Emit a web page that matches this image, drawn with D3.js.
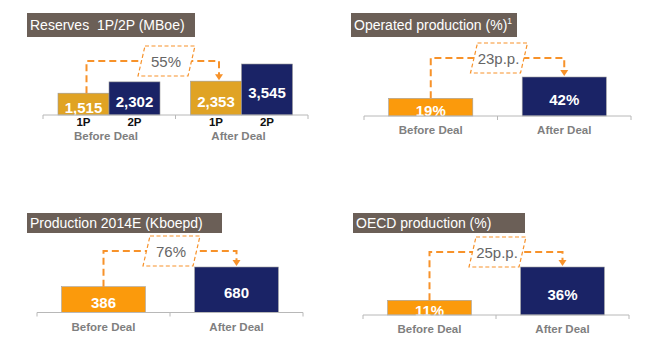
<!DOCTYPE html>
<html><head><meta charset="utf-8">
<script src="https://cdn.jsdelivr.net/npm/d3@7"></script>
<style>
html,body{margin:0;padding:0;background:#fff;}
svg{display:block;font-family:"Liberation Sans",Arial,sans-serif;}
</style></head>
<body><svg id="c" width="647" height="353"></svg>
<script>
// ---- data ----
const groups = ["Before Deal", "After Deal"];
const reserveSeries = ["1P", "2P"];
const reserves1P = [1515, 2353];
const reserves2P = [2302, 3545];
const reservesDelta = "55%";
const reservesTitle = "Reserves  1P/2P (MBoe)";

const operatedValues = [19, 42];
const operatedDelta = "23p.p.";
const operatedTitle = "Operated production (%)";
const operatedNote = "1";

const productionValues = [386, 680];
const productionDelta = "76%";
const productionTitle = "Production 2014E (Kboepd)";

const oecdValues = [11, 36];
const oecdDelta = "25p.p.";
const oecdTitle = "OECD production (%)";

const fmt = d3.format(",");
const fmtPct = v => v + "%";

// ---- styles ----
const C_GOLD = "#E0A324", C_ORANGE = "#FB9A0C", C_NAVY = "#1A2366",
      C_TITLE = "#6B5F57", C_DASH = "#F7922A", C_GREY = "#7F7F7F";

const svg = d3.select("#c");

function titleBox(x, y, w, h, text, note) {
  const g = svg.append("g");
  g.append("rect").attr("x", x).attr("y", y).attr("width", w).attr("height", h).attr("fill", C_TITLE);
  const t = g.append("text").attr("x", x + 3).attr("y", y + h / 2 + 5)
    .attr("fill", "#fff").attr("font-size", 14).style("white-space", "pre").text(text);
  if (note) {
    t.append("tspan").attr("font-size", 8.5).attr("dy", -6).text(note);
  }
}

function axisLine(x0, x1, y, ticks) {
  const g = svg.append("g");
  g.append("line").attr("x1", x0).attr("x2", x1).attr("y1", y).attr("y2", y)
    .attr("stroke", "#B8B8B8").attr("stroke-width", 1);
  ticks.forEach(t => g.append("line").attr("x1", t).attr("x2", t).attr("y1", y).attr("y2", y + 4)
    .attr("stroke", "#B8B8B8").attr("stroke-width", 1));
}

function deltaArrow(x0, y0, x1, yTop, y1, boxCx, text) {
  const g = svg.append("g");
  g.append("path")
    .attr("d", `M${x0},${y0} V${yTop} H${x1} V${y1 - 5}`)
    .attr("fill", "none").attr("stroke", C_DASH).attr("stroke-width", 2)
    .attr("stroke-dasharray", "7,4");
  g.append("path")
    .attr("d", `M${x1 - 4},${y1 - 7} L${x1 + 4},${y1 - 7} L${x1},${y1 - 1} Z`)
    .attr("fill", C_DASH);
  const bw = 50, bh = 30, sk = 5;
  const bx = boxCx - bw / 2, by = yTop - bh / 2;
  g.append("path")
    .attr("d", `M${bx + sk},${by} L${bx + bw + sk},${by} L${bx + bw - sk + 3},${by + bh} L${bx - sk + 3},${by + bh} Z`)
    .attr("fill", "#fff").attr("stroke", C_DASH).attr("stroke-width", 1.2)
    .attr("stroke-dasharray", "4,2.5");
  g.append("text").attr("x", boxCx + 1).attr("y", yTop + 5.5).attr("text-anchor", "middle")
    .attr("fill", "#666").attr("font-size", 15).text(text);
}

function valueLabel(x, yTop, yBase, txt) {
  svg.append("text").attr("x", x).attr("y", (yTop + yBase) / 2 + 3 + 5.5)
    .attr("text-anchor", "middle").attr("fill", "#fff").attr("font-weight", "bold")
    .attr("font-size", 15).text(txt);
}

// ---- Panel 1: Reserves ----
(function () {
  const base = 115;
  titleBox(27, 13, 168, 24, reservesTitle);
  const x = d3.scaleBand().domain(groups).range([43, 308]);
  const xi = d3.scaleBand().domain(reserveSeries).range([15, 117]);
  const y = d3.scaleLinear().domain([0, 3545]).range([base, 64]);
  const rows = groups.map((g, i) => ({ g, vals: [reserves1P[i], reserves2P[i]] }));
  rows.forEach(r => {
    r.vals.forEach((v, j) => {
      const bx = x(r.g) + xi(reserveSeries[j]);
      svg.append("rect").attr("x", bx).attr("y", y(v)).attr("width", xi.bandwidth())
        .attr("height", base - y(v)).attr("fill", j === 0 ? C_GOLD : C_NAVY)
        .attr("stroke", "#9a9a9a").attr("stroke-width", 0.6);
      valueLabel(bx + xi.bandwidth() / 2, y(v), base, fmt(v));
      svg.append("text").attr("x", bx + xi.bandwidth() / 2).attr("y", base + 11)
        .attr("text-anchor", "middle").attr("font-weight", "bold").attr("font-size", 11.5)
        .attr("fill", "#111").text(reserveSeries[j]);
    });
    svg.append("text").attr("x", x(r.g) + 63).attr("y", base + 25)
      .attr("text-anchor", "middle").attr("font-weight", "bold").attr("font-size", 11.5)
      .attr("fill", C_GREY).text(r.g);
  });
  axisLine(43, 308, base, [43, 175.5, 308]);
  const xs = x(groups[0]) + xi("1P") + xi.bandwidth() / 2 + 3;
  const xe = x(groups[1]) + xi("1P") + xi.bandwidth() / 2 + 3;
  deltaArrow(xs, y(reserves1P[0]), xe, 61, y(reserves1P[1]), 165, reservesDelta);
})();

// ---- Generic two-bar panel ----
function twoBar(opts) {
  const { x0, x1, base, vals, max, topPx, title, tbox, note, delta, arrowY, labelFmt } = opts;
  titleBox(tbox[0], tbox[1], tbox[2], tbox[3], title, note);
  const x = d3.scaleBand().domain(groups).range([x0, x1]).paddingInner(0.37).paddingOuter(0.185);
  const y = d3.scaleLinear().domain([0, max]).range([base, topPx]);
  groups.forEach((g, i) => {
    const v = vals[i];
    svg.append("rect").attr("x", x(g)).attr("y", y(v)).attr("width", x.bandwidth())
      .attr("height", base - y(v)).attr("fill", i === 0 ? C_ORANGE : C_NAVY)
      .attr("stroke", "#a0a0a0").attr("stroke-width", 0.6);
    valueLabel(x(g) + x.bandwidth() / 2, y(v), base, labelFmt(v));
    svg.append("text").attr("x", x(g) + x.bandwidth() / 2).attr("y", base + 18)
      .attr("text-anchor", "middle").attr("font-weight", "bold").attr("font-size", 11.5)
      .attr("fill", C_GREY).text(g);
  });
  axisLine(x0, x1, base, [x0, (x0 + x1) / 2, x1]);
  const xs = x(groups[0]) + x.bandwidth() / 2;
  const xe = x(groups[1]) + x.bandwidth() / 2;
  deltaArrow(xs, y(vals[0]), xe, arrowY, y(vals[1]), (xs + xe) / 2, delta);
}

twoBar({ x0: 364, x1: 631, base: 116, vals: operatedValues, max: 42, topPx: 77,
  title: operatedTitle, note: operatedNote, tbox: [351, 13, 166, 24], delta: operatedDelta,
  arrowY: 58, labelFmt: fmtPct });

twoBar({ x0: 37, x1: 303, base: 312.5, vals: productionValues, max: 680, topPx: 267,
  title: productionTitle, tbox: [27, 213, 195, 20], delta: productionDelta,
  arrowY: 251, labelFmt: d => d });

twoBar({ x0: 363, x1: 629, base: 315, vals: oecdValues, max: 36, topPx: 267,
  title: oecdTitle, tbox: [353, 213, 172, 20], delta: oecdDelta,
  arrowY: 252, labelFmt: fmtPct });
</script>
</body></html>
